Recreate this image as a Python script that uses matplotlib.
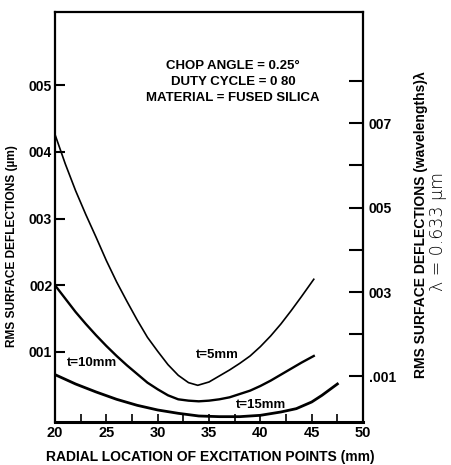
import matplotlib
matplotlib.use("Agg")
import matplotlib.pyplot as plt
from matplotlib.ticker import FixedLocator

plt.rcParams["font.family"] = ["Liberation Sans", "DejaVu Sans"]

# values
x_t5 = [20, 21, 22, 23, 24, 25, 26, 27, 28, 29, 30, 31, 32, 33, 33.9,
        35, 36, 37, 38, 39, 40, 41, 42, 43, 44, 45.2]
y_t5 = [0.00426, 0.00382, 0.00342, 0.00306, 0.00272, 0.00237, 0.00205,
        0.00176, 0.00148, 0.00122, 0.00101, 0.00081, 0.00065, 0.00054,
        0.00050, 0.00055, 0.00064, 0.00073, 0.00083, 0.00094, 0.00108,
        0.00124, 0.00142, 0.00162, 0.00183, 0.00209]

x_t10 = [20, 21, 22, 23, 24, 25, 26, 27, 28, 29, 30, 31, 32, 33, 34,
         35, 36, 37, 38, 39, 40, 41, 42, 43, 44, 45.2]
y_t10 = [0.00200, 0.00180, 0.00160, 0.00142, 0.00125, 0.00109, 0.00094,
         0.00080, 0.00067, 0.00054, 0.00044, 0.00035, 0.00029, 0.00027,
         0.00026, 0.00027, 0.00029, 0.00032, 0.00037, 0.00042, 0.00049,
         0.00057, 0.00066, 0.00075, 0.00084, 0.00094]

x_t15 = [20, 22, 24, 26, 28, 30, 32, 34, 36, 38, 40, 42, 43.5, 45, 46, 47.5]
y_t15 = [0.00066, 0.00052, 0.00040, 0.00029, 0.00020, 0.00013, 0.00008,
         0.00004, 0.00003, 0.00003, 0.00005, 0.00010, 0.00015, 0.00025,
         0.00035, 0.00052]

x_ticks = [20, 25, 30, 35, 40, 45, 50]
x_minor = [22.5, 27.5, 32.5, 37.5, 42.5, 47.5]
left_ticks = [0.001, 0.002, 0.003, 0.004, 0.005]
left_labels = ["001", "002", "003", "004", "005"]
right_ticks = [0.001, 0.002, 0.003, 0.004, 0.005, 0.006, 0.007, 0.008]
right_labels = [".001", "", "003", "", "005", "", "007", ""]
wavelength = 0.633

fig = plt.figure(figsize=(4.51, 4.65), dpi=100)
ax = fig.add_axes([0.122, 0.0925, 0.683, 0.882])

ax.plot(x_t5, y_t5, color="black", lw=1.2)
ax.plot(x_t10, y_t10, color="black", lw=1.7)
ax.plot(x_t15, y_t15, color="black", lw=2.0)

ax.set_xlim(20, 50)
ax.set_ylim(-0.00005, 0.0061)

ax.set_xticks(x_ticks)
ax.set_xticklabels([str(v) for v in x_ticks])
ax.xaxis.set_minor_locator(FixedLocator(x_minor))
ax.set_yticks(left_ticks)
ax.set_yticklabels(left_labels)
ax.tick_params(axis="x", which="both", direction="in", length=6, width=1.2,
               labelsize=10.5, pad=3, top=False)
ax.tick_params(axis="y", direction="in", length=7, width=1.5,
               labelsize=10, pad=2, right=False)
for lab in ax.get_xticklabels() + ax.get_yticklabels():
    lab.set_fontweight("bold")

for side in ["left", "right", "top", "bottom"]:
    ax.spines[side].set_linewidth(1.6)
ax.spines["bottom"].set_linewidth(2.2)

ax2 = ax.twinx()
lo, hi = ax.get_ylim()
ax2.set_ylim(lo / wavelength, hi / wavelength)
ax2.set_yticks(right_ticks)
ax2.set_yticklabels(right_labels)
ax2.tick_params(axis="y", direction="in", length=10, width=1.5,
                labelsize=10, pad=4)
for lab in ax2.get_yticklabels():
    lab.set_fontweight("bold")
for side in ["left", "right", "top", "bottom"]:
    ax2.spines[side].set_visible(False)

ax.text(0.578, 0.829, "CHOP ANGLE = 0.25°\nDUTY CYCLE = 0 80\nMATERIAL = FUSED SILICA",
        transform=ax.transAxes, ha="center", va="center", fontsize=9.5,
        fontweight="bold", linespacing=1.45)

ax.text(35.8, 0.00096, "t=5mm", ha="center", va="center", fontsize=9.5,
        fontweight="bold")
ax.text(23.6, 0.00084, "t=10mm", ha="center", va="center", fontsize=9.5,
        fontweight="bold")
ax.text(40.1, 0.00021, "t=15mm", ha="center", va="center", fontsize=9.5,
        fontweight="bold")

fig.text(0.466, 0.017, "RADIAL LOCATION OF EXCITATION POINTS (mm)",
         ha="center", va="center", fontsize=10, fontweight="bold")
fig.text(0.027, 0.471, "RMS SURFACE DEFLECTIONS (µm)", rotation=90,
         ha="center", va="center", fontsize=8.6, fontweight="bold")
fig.text(0.934, 0.516, "RMS SURFACE DEFLECTIONS (wavelengths)λ", rotation=90,
         ha="center", va="center", fontsize=10, fontweight="bold")
fig.text(0.972, 0.503, "λ = 0.633 µm", rotation=90, ha="center", va="center",
         fontsize=12.5, family=["DejaVu Sans"], fontweight="light")

fig.savefig("out.png", dpi=100)
